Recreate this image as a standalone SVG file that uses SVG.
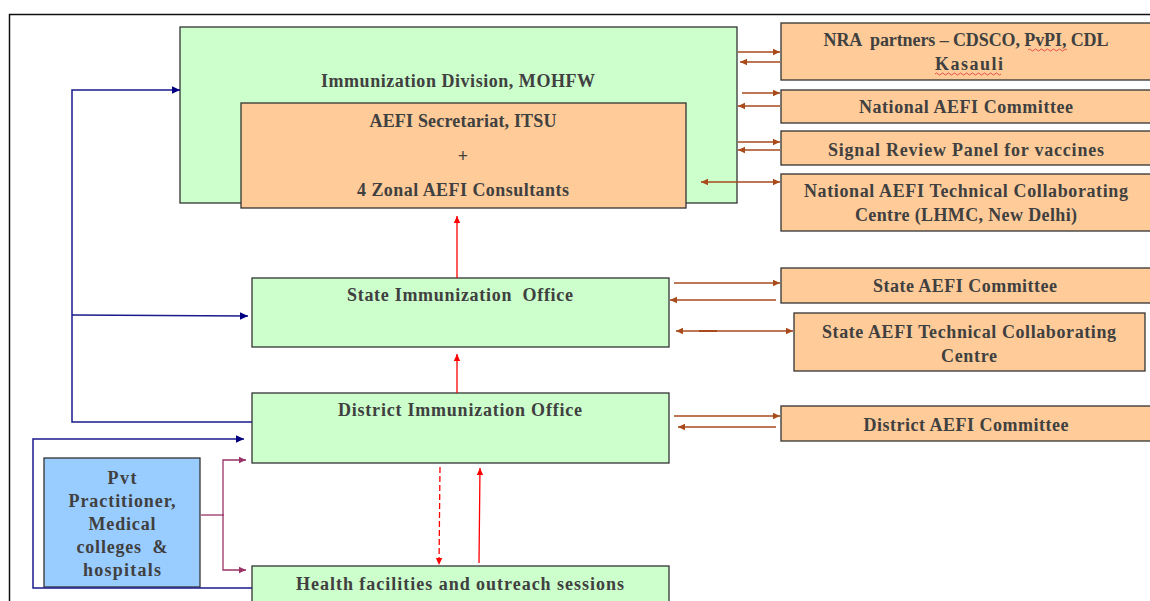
<svg xmlns="http://www.w3.org/2000/svg" width="1150" height="601" viewBox="0 0 1150 601">
<style>
.g{fill:#CCFFCC;stroke:#333;stroke-width:1.3}
.o{fill:#FFCC99;stroke:#333;stroke-width:1.3}
.b{fill:#99CCFF;stroke:#333;stroke-width:1.3}
text{font-family:"Liberation Serif","DejaVu Serif",serif;font-weight:bold;font-size:18px;fill:#404040;text-anchor:middle;white-space:pre}
.br{stroke:#A84A1B;stroke-width:1.3;fill:none}
.rd{stroke:#FF0000;stroke-width:1.3;fill:none}
.bl{stroke:#1A1A8C;stroke-width:1.5;fill:none}
.pu{stroke:#993366;stroke-width:1.3;fill:none}
.sq{fill:none;stroke:#E03030;stroke-width:0.8}
</style>
<defs>
<marker id="mb" markerUnits="userSpaceOnUse" markerWidth="8" markerHeight="8" refX="7" refY="4" orient="auto-start-reverse"><path d="M0,0.8 L7,4 L0,7.2 Z" fill="#A84A1B"/></marker>
<marker id="mr" markerUnits="userSpaceOnUse" markerWidth="8" markerHeight="8" refX="7" refY="4" orient="auto-start-reverse"><path d="M0,0.8 L7,4 L0,7.2 Z" fill="#FF0000"/></marker>
<marker id="mn" markerUnits="userSpaceOnUse" markerWidth="10" markerHeight="10" refX="8" refY="5" orient="auto-start-reverse"><path d="M0,1.3 L8,5 L0,8.7 Z" fill="#000080"/></marker>
<marker id="mp" markerUnits="userSpaceOnUse" markerWidth="8" markerHeight="8" refX="7" refY="4" orient="auto-start-reverse"><path d="M0,0.8 L7,4 L0,7.2 Z" fill="#993366"/></marker>
</defs>
<rect width="1150" height="601" fill="#fff"/>
<path d="M9.5,601 V14.5 H1150" fill="none" stroke="#111" stroke-width="1.5"/>

<g id="immunization-division"><rect class="g" x="180" y="27" width="557" height="176"/><text x="458" y="87" textLength="274">Immunization Division, MOHFW</text></g>
<g id="aefi-secretariat"><rect class="o" x="241" y="103" width="445" height="105"/><text x="463" y="127" textLength="187">AEFI Secretariat, ITSU</text><text x="463" y="162">+</text><text x="463" y="196" textLength="212">4 Zonal AEFI Consultants</text></g>

<g id="nra"><rect class="o" x="781" y="23" width="380" height="57"/><text x="966" y="46" textLength="285" xml:space="preserve">NRA  partners – CDSCO, PvPI, CDL</text><text x="969" y="70" textLength="68">Kasauli</text>
<path class="sq" d="M1028,50 q1.5,-2 3,0 t3,0 t3,0 t3,0 t3,0 t3,0 t3,0 t3,0 t3,0 t3,0 t3,0 t3,0 t3,0"/>
<path class="sq" d="M935,74 q1.5,-2 3,0 t3,0 t3,0 t3,0 t3,0 t3,0 t3,0 t3,0 t3,0 t3,0 t3,0 t3,0 t3,0 t3,0 t3,0 t3,0 t3,0 t3,0 t3,0 t3,0 t3,0 t3,0"/></g>
<g id="national-aefi-committee"><rect class="o" x="781" y="90" width="380" height="33"/><text x="966" y="113" textLength="214">National AEFI Committee</text></g>
<g id="signal-review-panel"><rect class="o" x="781" y="131" width="380" height="34"/><text x="966" y="156" textLength="276">Signal Review Panel for vaccines</text></g>
<g id="national-tcc"><rect class="o" x="781" y="174" width="380" height="57"/><text x="966" y="197" textLength="324">National AEFI Technical Collaborating</text><text x="966" y="221" textLength="222">Centre (LHMC, New Delhi)</text></g>

<g id="state-office"><rect class="g" x="252" y="278" width="417" height="69"/><text x="460" y="301" textLength="226" xml:space="preserve">State Immunization  Office</text></g>
<g id="state-aefi-committee"><rect class="o" x="781" y="268" width="380" height="35"/><text x="965" y="292" textLength="184">State AEFI Committee</text></g>
<g id="state-tcc"><rect class="o" x="794" y="313" width="351" height="58"/><text x="969" y="338" textLength="294">State AEFI Technical Collaborating</text><text x="969" y="362" textLength="56">Centre</text></g>

<g id="district-office"><rect class="g" x="252" y="393" width="417" height="70"/><text x="460" y="416" textLength="244">District Immunization Office</text></g>
<g id="district-aefi-committee"><rect class="o" x="781" y="406" width="380" height="35"/><text x="966" y="431" textLength="205">District AEFI Committee</text></g>

<g id="health-facilities"><rect class="g" x="252" y="566" width="417" height="40"/><text x="460" y="590" textLength="328">Health facilities and outreach sessions</text></g>
<g id="pvt"><rect class="b" x="44" y="458" width="156" height="129"/><text x="122" y="484" textLength="29">Pvt</text><text x="122" y="507" textLength="107">Practitioner,</text><text x="122" y="530" textLength="67">Medical</text><text x="122" y="553" textLength="91" xml:space="preserve">colleges  &amp;</text><text x="122" y="576" textLength="78">hospitals</text></g>

<g id="connectors">
<line class="br" x1="738" y1="52" x2="780" y2="52" marker-end="url(#mb)"/>
<line class="br" x1="780" y1="62" x2="740" y2="62" marker-end="url(#mb)"/>
<line class="br" x1="742" y1="93" x2="780" y2="93" marker-end="url(#mb)"/>
<line class="br" x1="780" y1="106" x2="738" y2="106" marker-end="url(#mb)"/>
<line class="br" x1="738" y1="142" x2="780" y2="142" marker-end="url(#mb)"/>
<line class="br" x1="780" y1="150" x2="738" y2="150" marker-end="url(#mb)"/>
<line class="br" x1="701" y1="182" x2="780" y2="182" marker-start="url(#mb)" marker-end="url(#mb)"/>
<line class="br" x1="674" y1="283" x2="780" y2="283" marker-end="url(#mb)"/>
<line class="br" x1="776" y1="300" x2="670" y2="300" marker-end="url(#mb)"/>
<line class="br" x1="676" y1="331" x2="793" y2="331" marker-start="url(#mb)" marker-end="url(#mb)"/>
<line x1="699" y1="331" x2="717" y2="331" stroke="#A84A1B" stroke-width="2"/>
<line class="br" x1="674" y1="416" x2="780" y2="416" marker-end="url(#mb)"/>
<line class="br" x1="776" y1="427" x2="678" y2="427" marker-end="url(#mb)"/>

<line class="rd" x1="457" y1="278" x2="457" y2="216" marker-end="url(#mr)"/>
<line class="rd" x1="457" y1="393" x2="457" y2="354" marker-end="url(#mr)"/>
<line class="rd" x1="440" y1="467" x2="439" y2="565" stroke-dasharray="6,3" marker-end="url(#mr)"/>
<line class="rd" x1="479" y1="563" x2="480" y2="468" marker-end="url(#mr)"/>

<path class="bl" d="M252,422 H72 V90 H180" marker-end="url(#mn)"/>
<line class="bl" x1="72" y1="315" x2="248" y2="316" marker-end="url(#mn)"/>
<path class="bl" d="M252,588 H33 V439 H244" marker-end="url(#mn)"/>

<line class="pu" x1="201" y1="515" x2="224" y2="515"/>
<path class="pu" d="M246,460 H223 V570 H246" marker-start="url(#mp)" marker-end="url(#mp)"/>
</g>
</svg>
